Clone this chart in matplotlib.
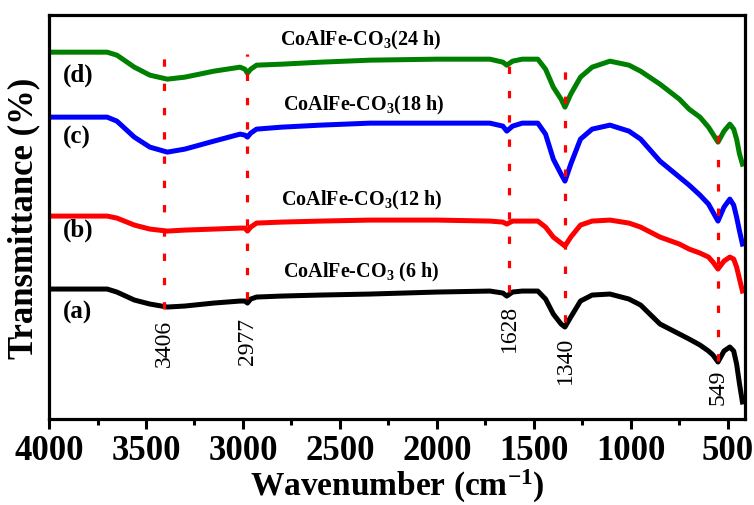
import numpy as np
import matplotlib.pyplot as plt

plt.rcParams['font.family'] = ['Liberation Serif', 'DejaVu Serif']
plt.rcParams['font.weight'] = 'bold'
plt.rcParams['axes.labelweight'] = 'bold'
plt.rcParams['mathtext.fontset'] = 'custom'
plt.rcParams['mathtext.rm'] = 'Liberation Serif:bold'
plt.rcParams['mathtext.it'] = 'Liberation Serif:bold'
plt.rcParams['mathtext.bf'] = 'Liberation Serif:bold'

# wavenumber grid (cm-1)
wn = np.array([4000, 3700, 3650, 3560, 3480, 3390, 3300, 3150, 3015, 2990,
               2977, 2960, 2930, 2800, 2600, 2345, 2000, 1727, 1660, 1640,
               1610, 1560, 1480, 1440, 1400, 1360, 1340, 1310, 1260, 1200,
               1108, 1010, 950, 850, 750, 700, 644, 600, 577, 551,
               520, 490, 470, 455, 440, 425])

# transmittance (arbitrary units, offset curves)
t_24h = [367, 367, 364, 352, 344, 340, 342, 348, 352, 350,
         346, 350, 354, 355, 357, 359, 360, 360, 357, 354,
         358, 360, 360, 350, 332, 320, 312, 325, 342, 352,
         358, 354, 348, 335, 320, 310, 302, 292, 285, 277,
         288, 295, 290, 280, 265, 255]
t_18h = [302, 302, 298, 282, 272, 267, 270, 278, 285, 284,
         282, 286, 290, 292, 294, 296, 296, 296, 293, 288,
         293, 296, 296, 285, 260, 245, 238, 255, 280, 290,
         294, 288, 280, 258, 242, 234, 224, 215, 207, 198,
         212, 220, 214, 202, 188, 175]
t_12h = [203, 203, 201, 194, 190, 188, 189, 190, 191, 191,
         188, 192, 196, 197, 198, 199, 199, 198, 197, 195,
         198, 198, 198, 192, 182, 176, 173, 182, 194, 198,
         199, 196, 192, 182, 175, 170, 166, 162, 157, 150,
         158, 162, 160, 152, 140, 128]
t_6h = [130, 130, 127, 119, 115, 112, 113, 116, 118, 118,
        116, 120, 122, 123, 124, 125, 127, 128, 126, 123,
        127, 128, 128, 120, 105, 95, 92, 102, 118, 124,
        125, 120, 114, 95, 85, 80, 74, 68, 64, 57,
        68, 72, 68, 55, 35, 17]

# marked peaks: position, line top, line bottom, label top
peaks = [3406, 2977, 1628, 1340, 549]
peak_top = [368, 365, 363, 363, 293]
peak_bot = [110, 120, 127, 97, 58]
label_top = [100, 102, 115, 83, 50]

fig = plt.figure(figsize=(7.54, 5.06), dpi=100)
ax = fig.add_axes([0.065, 0.170, 0.923, 0.798])

series = [(t_6h, 'black'), (t_12h, 'red'), (t_18h, 'blue'), (t_24h, 'green')]
for t, c in series:
    ax.plot(wn, t, color=c, lw=3.6, solid_joinstyle='round')

for p, top, bot, lt in zip(peaks, peak_top, peak_bot, label_top):
    ax.plot([p, p], [bot, top], color='red', lw=2.3, ls=(0, (2.3, 5.3)), zorder=3)
    ax.text(p, lt, str(p), rotation=90, ha='center', va='top',
            fontsize=17, fontweight='normal')

titles = [(2809, 380, r'CoAlFe-CO$_3$(24 h)'),
          (2794, 315, r'CoAlFe-CO$_3$(18 h)'),
          (2804, 220, r'CoAlFe-CO$_3$(12 h)'),
          (2794, 148, r'CoAlFe-CO$_3$ (6 h)')]
for x, y, s in titles:
    ax.text(x, y, s, ha='left', va='center', fontsize=14.5)

for lab, y in [('(d)', 345), ('(c)', 283), ('(b)', 190), ('(a)', 108)]:
    ax.text(3930, y, lab, ha='left', va='center', fontsize=18)

ax.set_xlim(4000, 412)
ax.set_ylim(0, 404)
ax.set_xticks([4000, 3500, 3000, 2500, 2000, 1500, 1000, 500])
ax.set_xticks(np.arange(3750, 400, -500), minor=True)
ax.set_yticks([])
ax.tick_params(axis='x', which='major', direction='out', length=7, width=2.2,
               labelsize=25, pad=4)
ax.tick_params(axis='x', which='minor', direction='out', length=4, width=2.2)
for s in ax.spines.values():
    s.set_linewidth(2.3)

ax.set_xlabel(r'Wavenumber (cm$^{-1}$)', fontsize=24, labelpad=0)
ax.set_ylabel('Transmittance (%)', fontsize=25, labelpad=6)

fig.savefig('out.png', dpi=100)
